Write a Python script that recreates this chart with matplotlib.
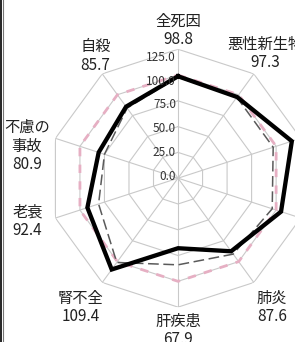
import numpy as np
import matplotlib
matplotlib.use("Agg")
import matplotlib.pyplot as plt
from matplotlib.lines import Line2D

plt.rcParams["font.family"] = ["Noto Sans CJK JP", "DejaVu Sans"]

# data
CATEGORIES = ["全死因", "悪性新生物", "心疾患", "脳血管疾患", "肺炎",
              "肝疾患", "腎不全", "老衰", "不慮の\n事故", "自殺"]
LOCAL = [98.8, 97.3, 116.0, 105.0, 87.6, 67.9, 109.4, 92.4, 80.9, 85.7]
PREF = [98.0, 97.0, 97.0, 96.0, 91.0, 84.0, 101.0, 81.0, 75.0, 84.0]
NATIONAL = [100.0] * 10
RINGS = [0, 25, 50, 75, 100, 125]

# layout (label radius / angle tweak); None = label falls outside the crop
LABEL_R = [143, 148, None, None, 155, 148, 157, 152, 150, 143]
LABEL_DT = [0, -1, 0, 0, 0, 0, 1, 2, -6, 2]

fig = plt.figure(figsize=(2.95, 3.42), dpi=100)
ax = fig.add_axes([0.166, 0.102, 0.875, 0.754], projection="polar")
ax.set_theta_zero_location("N")
ax.set_theta_direction(-1)
ax.set_ylim(0, 125)
ax.grid(False)
ax.spines["polar"].set_visible(False)
ax.set_xticks([])
ax.set_yticks([])
ax.patch.set_alpha(0)

n = len(CATEGORIES)
theta = np.deg2rad(np.arange(n) * 360.0 / n)
closed = np.append(theta, theta[0])

grid_c = "#c9c9c9"
for r in RINGS[1:]:
    ax.plot(closed, [r] * (n + 1), color=grid_c, lw=0.8, zorder=1)
for t in theta:
    ax.plot([t, t], [0, 125], color=grid_c, lw=0.8, zorder=1)


def close(v):
    return list(v) + [v[0]]


ax.plot(closed, close(NATIONAL), color="#e6afc3", lw=2.0,
        dashes=(3, 3), zorder=2, clip_on=False)
ax.plot(closed, close(PREF), color="#5a5a5a", lw=1.1,
        dashes=(7, 3), zorder=3, clip_on=False)
ax.plot(closed, close(LOCAL), color="black", lw=3.1,
        zorder=4, clip_on=False, solid_joinstyle="miter")

for r in RINGS:
    ax.annotate(f"{r:.1f}", xy=(0, r), xytext=(-2, 2 - 0.08 * r),
                textcoords="offset pixels", ha="right", va="center",
                fontsize=8.5, color="#333333", zorder=5)

for i, (name, val) in enumerate(zip(CATEGORIES, LOCAL)):
    if LABEL_R[i] is None:
        continue
    t = theta[i] + np.deg2rad(LABEL_DT[i])
    ax.text(t, LABEL_R[i], f"{name}\n{val:.1f}", ha="center", va="center",
            fontsize=11, color="#222222", linespacing=1.1, clip_on=False)

# cropped title at the top edge
fig.text(0.62, 1.022, "死因別標準化死亡比（SMR）", ha="center", va="center",
         fontsize=10, color="#bbbbbb")

# double rule on the left edge
fig.add_artist(Line2D([0.002, 0.002], [0, 1], transform=fig.transFigure,
                      color="black", lw=1.2))
fig.add_artist(Line2D([0.011, 0.011], [0, 1], transform=fig.transFigure,
                      color="#777777", lw=0.8))

fig.savefig("out.png", dpi=100)
